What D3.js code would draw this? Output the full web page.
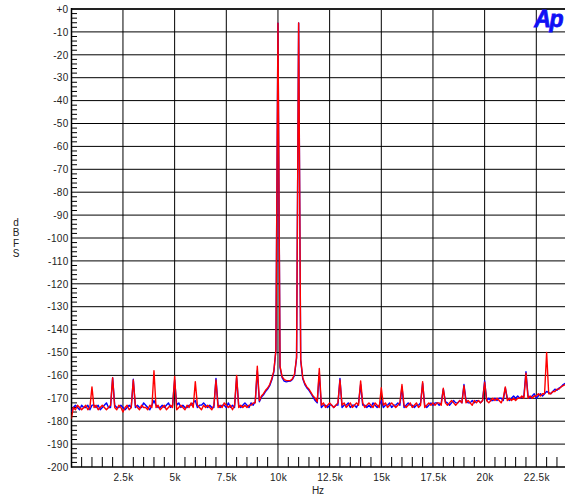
<!DOCTYPE html>
<html>
<head>
<meta charset="utf-8">
<script src="https://cdn.jsdelivr.net/npm/d3@7"></script>
<style>
  html, body { margin: 0; padding: 0; background: #fff; }
  svg { display: block; }
  text { font-family: "Liberation Sans", Arial, sans-serif; }
</style>
</head>
<body>
<svg id="chart" width="565" height="497"></svg>
<script>
// ---- Data (FFT bins every 100 Hz, 0 .. 24 kHz) ----
const binHz = 100;

const redDb = [
  -179, -174, -175, -173, -174, -175, -174, -173, -175, -174,
  -165, -174, -173, -175, -174, -173, -174, -175, -174, -173,
  -161, -174, -175, -173, -174, -176, -174, -173, -175, -174,
  -162, -173, -174, -175, -173, -174, -174, -175, -173, -174,
  -158, -174, -173, -175, -174, -173, -175, -174, -173, -174,
  -160.5, -175, -174, -173, -174, -175, -173, -174, -172, -174,
  -162.7, -173, -174, -175, -173, -174, -173, -174, -175, -173,
  -162, -174, -173, -174, -172, -173, -174, -173, -175, -173,
  -160, -174, -173, -174, -173, -174, -173, -173, -172, -172,
  -156, -171, -169, -168, -166.5, -165.5, -164, -161.5, -158, -149,
  -6.2, -156, -160.5, -161.8, -162.2, -162.3, -162.2, -161.5, -159.5, -152,
  -6.1, -153, -161, -163.5, -165, -166, -167.5, -169, -170, -171.5,
  -157, -173, -172, -174, -173, -172, -173, -174, -173, -172,
  -162, -173, -172, -174, -173, -172, -174, -173, -172, -173,
  -162.4, -172, -174, -173, -172, -173, -174, -172, -173, -174,
  -165.4, -173, -172, -174, -173, -172, -173, -174, -173, -172,
  -164, -173, -174, -173, -172, -174, -173, -172, -174, -173,
  -162.7, -174, -173, -172, -173, -172, -173, -172, -172, -173,
  -165.6, -172, -173, -172, -171, -172, -173, -172, -171, -172,
  -164.5, -172, -171, -172, -173, -171, -172, -171, -172, -171,
  -163, -171, -172, -171, -170, -171, -170, -171, -172, -170,
  -165, -171, -170, -171, -170, -171, -170, -170, -169, -170,
  -159, -170, -169, -170, -169, -169, -168, -169, -168, -168,
  -150, -168, -168, -167, -167, -166, -166, -165, -164.5, -164,
  -163.5
];

const blueDb = [
  -176, -174, -173, -174, -175, -173, -174, -174, -173, -175,
  -173, -173, -174, -173, -175, -174, -173, -172, -174, -174,
  -161, -173, -174, -174, -173, -174, -175, -174, -173, -174,
  -161.7, -174, -173, -174, -174, -172, -173, -174, -175, -173,
  -171, -173, -174, -174, -173, -174, -173, -172, -174, -173,
  -162, -173, -172, -174, -173, -174, -174, -173, -173, -172,
  -171, -174, -173, -173, -172, -173, -174, -173, -174, -174,
  -161.3, -173, -174, -173, -173, -174, -172, -174, -173, -174,
  -161, -173, -174, -173, -172, -173, -174, -172, -173, -171.5,
  -158, -171.5, -169.5, -168.5, -167, -166, -164.5, -162, -158.5, -149,
  -6.2, -156.5, -161, -162.5, -162.8, -162.6, -162.5, -161.8, -160, -152.5,
  -6.1, -153.5, -161.5, -164, -165.5, -166.5, -168, -169.5, -171, -172,
  -159, -174, -173, -173, -174, -173, -173, -174, -173, -173,
  -161.3, -174, -173, -173, -172, -174, -173, -173, -174, -172,
  -164, -173, -173, -174, -173, -174, -172, -173, -174, -173,
  -171, -174, -173, -173, -172, -174, -173, -173, -172, -173,
  -165, -174, -173, -172, -173, -173, -174, -173, -173, -172,
  -163.5, -173, -174, -173, -172, -173, -172, -172, -173, -172,
  -166, -171.5, -172, -173, -172, -171, -172, -172, -171, -172,
  -164, -171, -172, -172, -171, -172, -171, -171, -172, -171,
  -162.4, -171, -170, -171, -171, -170, -171, -170, -170, -171,
  -165.5, -170, -171, -170, -169, -170, -169, -170, -169.5, -169,
  -158.4, -169, -170, -169, -168, -170, -169, -168, -169, -168,
  -167, -167.5, -168, -167, -166, -166.5, -165.5, -165, -164, -163.5,
  -163
];

const xTickValues = [2500, 5000, 7500, 10000, 12500, 15000, 17500, 20000, 22500];
const xTickLabels = ["2.5k", "5k", "7.5k", "10k", "12.5k", "15k", "17.5k", "20k", "22.5k"];
const yTickValues = [0, -10, -20, -30, -40, -50, -60, -70, -80, -90, -100,
  -110, -120, -130, -140, -150, -160, -170, -180, -190, -200];
const yTickLabels = ["+0", "-10", "-20", "-30", "-40", "-50", "-60", "-70", "-80", "-90", "-100",
  "-110", "-120", "-130", "-140", "-150", "-160", "-170", "-180", "-190", "-200"];
const yAxisTitle = ["d", "B", "F", "S"];
const xAxisTitle = "Hz";

// ---- Layout ----
const plotL = 71.5, plotT = 9, plotB = 467, plotR = 565;

const svg = d3.select("#chart");
const x = d3.scaleLinear().domain([0, 24000]).range([71.3, 567.3]);
const y = d3.scaleLinear().domain([-200, 0]).range([plotB, plotT]);

svg.append("defs").append("clipPath").attr("id", "plotclip")
  .append("rect").attr("x", plotL).attr("y", 0).attr("width", plotR - plotL).attr("height", plotB + 1);

// grid
const grid = svg.append("g");
grid.selectAll("line.h").data(yTickValues.filter(v => v !== 0 && v !== -200)).join("line")
  .attr("x1", plotL).attr("x2", plotR)
  .attr("y1", d => y(d)).attr("y2", d => y(d))
  .attr("stroke", "#000").attr("stroke-width", 1);
grid.selectAll("line.v").data(xTickValues).join("line")
  .attr("x1", d => x(d)).attr("x2", d => x(d))
  .attr("y1", plotT).attr("y2", plotB)
  .attr("stroke", "#000").attr("stroke-width", 1);

// minor ticks
const yMinor = d3.range(-200, 0.01, 2).filter(v => v % 10 !== 0);
grid.selectAll("line.ym").data(yMinor).join("line")
  .attr("x1", plotL).attr("x2", plotL + 5.5)
  .attr("y1", d => y(d)).attr("y2", d => y(d))
  .attr("stroke", "#000").attr("stroke-width", 1);
const xMinor = d3.range(500, 24000, 500).filter(v => v % 2500 !== 0);
grid.selectAll("line.xm").data(xMinor).join("line")
  .attr("x1", d => x(d)).attr("x2", d => x(d))
  .attr("y1", plotB - 10).attr("y2", plotB)
  .attr("stroke", "#000").attr("stroke-width", 1);

// frame
svg.append("line").attr("x1", plotL).attr("x2", plotR).attr("y1", plotT).attr("y2", plotT)
  .attr("stroke", "#222").attr("stroke-width", 2);
svg.append("line").attr("x1", plotL).attr("x2", plotR).attr("y1", plotB).attr("y2", plotB)
  .attr("stroke", "#000").attr("stroke-width", 1.5);
svg.append("line").attr("x1", plotL).attr("x2", plotL).attr("y1", plotT - 1).attr("y2", plotB + 0.75)
  .attr("stroke", "#000").attr("stroke-width", 1.5);

// axes labels via d3 axes
const yAxis = d3.axisLeft(y).tickValues(yTickValues).tickSize(0).tickPadding(0)
  .tickFormat((d, i) => yTickLabels[i]);
const gy = svg.append("g").attr("transform", `translate(${plotL - 3},0)`).call(yAxis);
gy.select(".domain").remove();
gy.selectAll("text").attr("font-size", 10).attr("fill", "#222").attr("letter-spacing", 0.3)
  .attr("font-family", "'Liberation Sans', Arial, sans-serif");

const xAxis = d3.axisBottom(x).tickValues(xTickValues).tickSize(0).tickPadding(0)
  .tickFormat((d, i) => xTickLabels[i]);
const gx = svg.append("g").attr("transform", `translate(0,${plotB + 7})`).call(xAxis);
gx.select(".domain").remove();
gx.selectAll("text").attr("font-size", 10).attr("fill", "#222").attr("letter-spacing", 0.3)
  .attr("font-family", "'Liberation Sans', Arial, sans-serif");

svg.append("text").attr("x", 318).attr("y", 494).attr("text-anchor", "middle")
  .attr("font-size", 10).attr("fill", "#222").text(xAxisTitle);

svg.selectAll("text.yt").data(yAxisTitle).join("text")
  .attr("x", 16).attr("y", (d, i) => 225.5 + i * 10.6)
  .attr("text-anchor", "middle").attr("font-size", 10).attr("fill", "#222").text(d => d);

// traces
const line = d3.line().x((d, i) => x(i * binHz)).y(d => y(d));
const traces = svg.append("g").attr("clip-path", "url(#plotclip)");
traces.append("path").datum(blueDb).attr("d", line)
  .attr("fill", "none").attr("stroke", "#0000ff").attr("stroke-width", 1.4)
  .attr("stroke-linejoin", "round");
traces.append("path").datum(redDb).attr("d", line)
  .attr("fill", "none").attr("stroke", "#ff0000").attr("stroke-width", 1.4)
  .attr("stroke-linejoin", "round");

// logo
svg.append("text").attr("x", 562).attr("y", 27).attr("text-anchor", "end")
  .attr("font-size", 23).attr("font-weight", "bold").attr("font-style", "italic")
  .attr("letter-spacing", -1.5).attr("fill", "#1010f5")
  .attr("stroke", "#1010f5").attr("stroke-width", 0.8).text("Ap");
</script>
</body>
</html>
